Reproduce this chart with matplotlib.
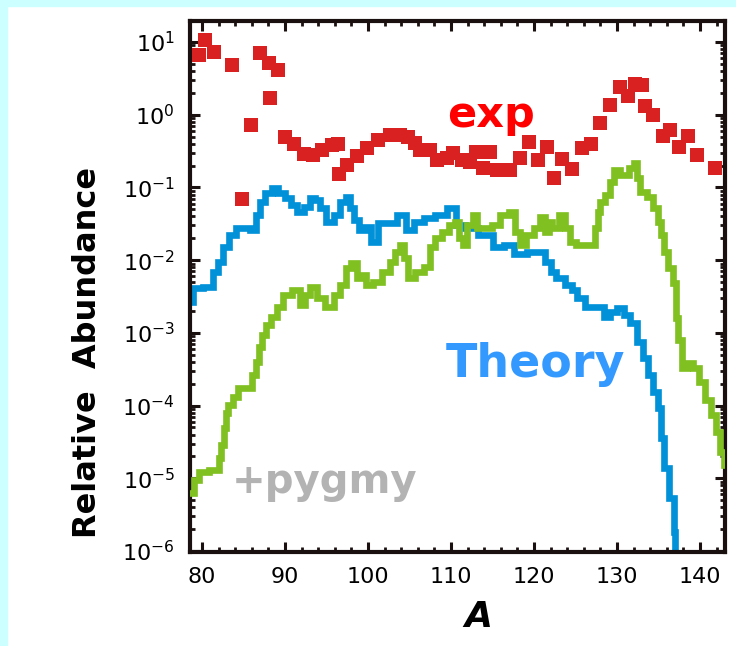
import numpy as np
import matplotlib
matplotlib.use("Agg")
import matplotlib.pyplot as plt
from matplotlib.ticker import LogLocator, MultipleLocator, NullFormatter
from matplotlib.patches import Rectangle

# theory curve (blue)
theory_A = [78.6, 79.3, 81.0, 81.6, 82.2, 82.8, 83.6, 84.6, 85.5, 86.1, 86.8, 87.2,
            88.0, 88.8, 89.6, 90.4, 91.0, 91.8, 92.7, 93.3, 94.0, 94.5, 95.4, 96.3,
            97.0, 97.6, 98.1, 98.6, 99.3, 99.9, 100.8, 101.7, 102.9, 104.1, 105.1,
            106.0, 107.5, 108.7, 110.2, 111.1, 112.3, 114.1, 115.9, 116.8, 118.3,
            120.1, 121.0, 121.7, 122.3, 123.1, 124.3, 124.9, 125.5, 126.8, 128.0,
            128.8, 129.5, 130.4, 131.2, 131.9, 132.8, 133.4, 134.0, 134.6, 135.2,
            135.4, 136.0, 136.6, 137.0, 137.0]
theory_Y = [2.7e-3, 4.2e-3, 4.3e-3, 6.9e-3, 9.4e-3, 1.5e-2, 2.2e-2, 2.8e-2, 2.8e-2,
            2.6e-2, 4.2e-2, 6.3e-2, 8.4e-2, 9.8e-2, 8.4e-2, 7.2e-2, 5.7e-2, 4.6e-2,
            5.4e-2, 7.2e-2, 6.7e-2, 5.2e-2, 3.35e-2, 4.2e-2, 6.3e-2, 7.4e-2, 5.2e-2,
            3.6e-2, 2.6e-2, 2.9e-2, 1.8e-2, 3.25e-2, 3.25e-2, 4.2e-2, 2.6e-2, 3.35e-2,
            3.8e-2, 4.2e-2, 5.2e-2, 3.05e-2, 2.8e-2, 2.2e-2, 1.5e-2, 1.6e-2, 1.2e-2,
            1.3e-2, 1.3e-2, 9.4e-3, 6.9e-3, 5.7e-3, 4.6e-3, 3.9e-3, 3.0e-3, 2.27e-3,
            2.27e-3, 1.66e-3, 1.94e-3, 2.2e-3, 1.76e-3, 1.37e-3, 7.5e-4, 4.5e-4,
            2.6e-4, 1.54e-4, 9.3e-5, 3.6e-5, 1.4e-5, 5.4e-6, 1.8e-6, 5e-7]

# theory + pygmy curve (green)
pygmy_A = [78.6, 79.5, 79.8, 81.9, 82.2, 82.4, 82.8, 82.9, 83.4, 84.0, 84.6, 85.8,
           86.3, 86.8, 87.0, 87.5, 88.0, 88.6, 89.4, 90.1, 91.5, 92.2, 92.7, 93.4,
           94.2, 95.4, 96.3, 97.0, 97.6, 98.4, 99.0, 99.6, 100.0, 101.1, 102.3,
           103.0, 103.6, 104.1, 104.5, 105.1, 106.3, 107.2, 107.8, 108.4, 109.3,
           110.1, 110.8, 111.2, 111.6, 112.3, 112.9, 113.3, 114.5, 115.3, 116.5,
           117.4, 118.0, 118.6, 119.5, 120.4, 121.1, 121.6, 121.9, 122.5, 123.4,
           124.1, 124.6, 125.5, 127.1, 127.6, 127.8, 128.2, 128.8, 129.4, 129.8,
           131.0, 131.8, 132.2, 132.5, 133.1, 134.0, 134.6, 135.2, 135.4, 135.8,
           136.4, 137.0, 137.1, 137.6, 138.0, 138.8, 139.6, 140.2, 141.0, 141.6,
           142.2, 142.7, 143.0]
pygmy_Y = [6.3e-6, 9.5e-6, 1.22e-5, 1.3e-5, 1.9e-5, 2.87e-5, 4.9e-5, 7.9e-5, 1.02e-4,
           1.31e-4, 1.75e-4, 1.75e-4, 2.6e-4, 4.0e-4, 6.4e-4, 9.4e-4, 1.29e-3, 1.66e-3,
           2.27e-3, 3.3e-3, 3.9e-3, 2.4e-3, 3.3e-3, 4.3e-3, 3.0e-3, 2.27e-3, 3.3e-3,
           4.6e-3, 7.8e-3, 9.1e-3, 5.7e-3, 6.3e-3, 4.6e-3, 5.0e-3, 6.9e-3, 9.4e-3,
           1.3e-2, 1.62e-2, 1.07e-2, 5.7e-3, 6.9e-3, 8.0e-3, 1.5e-2, 2.0e-2, 2.44e-2,
           3.05e-2, 3.35e-2, 2.0e-2, 1.62e-2, 3.05e-2, 4.2e-2, 2.8e-2, 2.8e-2, 3.05e-2,
           4.2e-2, 4.6e-2, 2.44e-2, 1.62e-2, 2.22e-2, 2.8e-2, 3.9e-2, 2.44e-2, 3.35e-2,
           2.8e-2, 4.2e-2, 2.8e-2, 1.78e-2, 1.62e-2, 1.62e-2, 2.8e-2, 4.6e-2, 6.3e-2,
           7.9e-2, 0.119, 0.174, 0.149, 0.185, 0.217, 0.135, 8.7e-2, 7.4e-2, 5.2e-2,
           3.35e-2, 2.22e-2, 1.3e-2, 7.8e-3, 4.85e-3, 1.6e-3, 8.0e-4, 3.3e-4, 3.85e-4,
           3.3e-4, 2.1e-4, 1.19e-4, 7.4e-5, 4.3e-5, 2.3e-5, 1.52e-5]

# measured yields (red squares)
exp_A = [80.4, 79.6, 81.5, 83.6, 87.0, 88.1, 89.2, 88.2, 85.9, 84.8, 90.0, 91.1,
         92.3, 93.4, 94.5, 95.7, 96.4, 96.5, 97.5, 98.7, 99.9, 101.2, 102.7, 103.9,
         104.8, 105.7, 106.3, 107.5, 108.3, 109.5, 110.2, 111.3, 112.3, 113.0,
         114.7, 113.9, 115.5, 117.1, 118.3, 119.4, 120.5, 121.6, 122.4, 123.4,
         124.6, 125.8, 126.9, 128.0, 129.2, 130.4, 131.3, 132.2, 133.0, 133.4,
         134.3, 135.5, 136.4, 137.4, 138.6, 139.6, 141.8]
exp_Y = [10.7, 6.65, 7.3, 4.84, 7.1, 5.16, 4.13, 1.70, 0.72, 6.95e-2, 0.495, 0.396,
         0.289, 0.28, 0.328, 0.385, 0.396, 0.153, 0.204, 0.271, 0.349, 0.45, 0.527,
         0.527, 0.495, 0.41, 0.328, 0.328, 0.239, 0.255, 0.299, 0.239, 0.224, 0.308,
         0.308, 0.185, 0.174, 0.174, 0.255, 0.423, 0.239, 0.361, 0.135, 0.247, 0.179,
         0.349, 0.396, 0.771, 1.36, 2.41, 1.81, 2.65, 2.57, 1.32, 0.99, 0.51, 0.62,
         0.361, 0.51, 0.28, 0.185]

W, H = 736, 646
fig = plt.figure(figsize=(W / 100, H / 100), dpi=100)
fig.patch.set_facecolor('white')

# light cyan frame strips (top and left)
fig.patches.append(Rectangle((0, 1 - 6 / H), 1, 6 / H, transform=fig.transFigure,
                             color='#ccffff', zorder=0))
fig.patches.append(Rectangle((0, 0), 7 / W, 1, transform=fig.transFigure,
                             color='#ccffff', zorder=0))

ax = fig.add_axes([190 / W, 1 - 552 / H, 535 / W, 531 / H])
ax.set_yscale('log')

ax.plot(theory_A, theory_Y, color='#0091d9', lw=4.8, drawstyle='steps-mid',
        solid_joinstyle='miter', zorder=2)
ax.plot(pygmy_A, pygmy_Y, color='#80c021', lw=4.8, drawstyle='steps-mid',
        solid_joinstyle='miter', zorder=3)
ax.plot(exp_A, exp_Y, ls='none', marker='s', ms=9.8, color='#d92121', mew=0, zorder=4)

ax.set_xlim(78.55, 143.0)
ax.set_ylim(10 ** -6.014, 10 ** 1.29)

ax.xaxis.set_major_locator(MultipleLocator(10))
ax.xaxis.set_minor_locator(MultipleLocator(2))
ax.yaxis.set_major_locator(LogLocator(base=10, numticks=20))
ax.yaxis.set_minor_locator(LogLocator(base=10, subs=np.arange(2, 10), numticks=20))
ax.yaxis.set_minor_formatter(NullFormatter())

ax.tick_params(which='both', direction='in', top=True, right=True, colors='#1a1010')
ax.tick_params(which='major', length=7, width=2.2, labelsize=16, pad=11, labelcolor='black')
ax.tick_params(which='minor', length=3.6, width=2)
for s in ax.spines.values():
    s.set_linewidth(3)
    s.set_color('#1a1010')

# curve labels
ax.text(0.563, 0.800, 'exp', transform=ax.transAxes, ha='center', va='baseline',
        color='#ff0000', fontsize=31, fontweight='bold')
ax.text(0.645, 0.330, 'Theory', transform=ax.transAxes, ha='center', va='baseline',
        color='#3399ff', fontsize=33, fontweight='bold')
ax.text(0.252, 0.111, '+pygmy', transform=ax.transAxes, ha='center', va='baseline',
        color='#b3b3b3', fontsize=29, fontweight='bold')

# axis titles
fig.text(88 / W, 1 - 353 / H, 'Relative  Abundance', rotation=90, ha='center',
         va='center', fontsize=23, fontweight='bold')
fig.text(478 / W, 1 - 617 / H, 'A', ha='center', va='center', fontsize=26,
         fontweight='bold', fontstyle='italic')

fig.savefig('out.png', dpi=100)
